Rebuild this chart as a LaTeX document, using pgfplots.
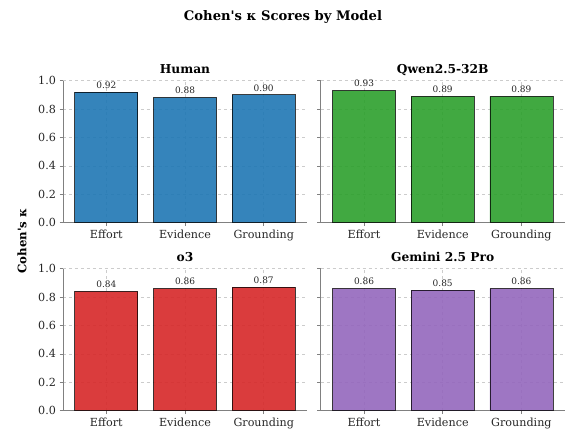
\documentclass[border=0pt]{standalone}
\usepackage{pgfplots}
\pgfplotsset{compat=1.18}
\usepackage{fontspec}
\setmainfont{DejaVu Serif}
\definecolor{cblue}{HTML}{1F77B4}
\definecolor{cgreen}{HTML}{2CA02C}
\definecolor{cred}{HTML}{D62728}
\definecolor{cpurple}{HTML}{9467BD}
\pgfplotsset{
  panel/.style={
    anchor=south west, scale only axis, width=244bp, height=142bp,
    xmin=-0.55, xmax=2.55, ymin=0, ymax=1,
    axis lines=left, axis line style={-, draw=gray, line width=0.9bp},
    xtick={0,1,2}, xticklabels={Effort,Evidence,Grounding},
    ytick={0,0.2,0.4,0.6,0.8,1.0},
    yticklabel style={/pgf/number format/.cd, fixed, precision=1, zerofill, assume math mode=true},
    tick label style={font=\fontsize{11.2}{13}\selectfont, text=black!85},
    tick style={gray, line width=0.8bp},
    major tick length=3.5bp, tick align=outside,
    grid=major, grid style={dashed, gray!40, line width=0.5bp},
    title style={font=\bfseries\fontsize{12.3}{14}\selectfont, text depth=0.25em, yshift=-5bp},
    ybar, bar width=0.8,
    nodes near coords={\pgfmathprintnumber[fixed,precision=2,zerofill,assume math mode=true]{\pgfplotspointmeta}},
    every node near coord/.append style={font=\fontsize{9}{10}\selectfont, text=black!85, text opacity=1},
  },
  barsty/.style={draw=black, draw opacity=0.75, line width=0.8bp, fill=#1, fill opacity=0.9},
}
\begin{document}
\begin{tikzpicture}[x=1bp,y=1bp]
\path[use as bounding box] (0,0) rectangle (566,431);
\node[font=\bfseries\fontsize{13.2}{16}\selectfont] at (283,414) {Cohen\textquotesingle s κ Scores by Model};
\node[font=\bfseries\fontsize{11.8}{14}\selectfont, rotate=90] at (22,190) {Cohen\textquotesingle s κ};

\begin{axis}[panel, at={(63bp,208.3bp)}, title={Human}]
\addplot[barsty=cblue] coordinates {(0,0.92) (1,0.88) (2,0.90)};
\end{axis}

\begin{axis}[panel, at={(320.7bp,208.3bp)}, title={Qwen2.5-32B}, yticklabels={}]
\addplot[barsty=cgreen] coordinates {(0,0.93) (1,0.89) (2,0.89)};
\end{axis}

\begin{axis}[panel, at={(63bp,20.3bp)}, title={o3}]
\addplot[barsty=cred] coordinates {(0,0.84) (1,0.86) (2,0.87)};
\end{axis}

\begin{axis}[panel, at={(320.7bp,20.3bp)}, title={Gemini 2.5 Pro}, yticklabels={}]
\addplot[barsty=cpurple] coordinates {(0,0.86) (1,0.85) (2,0.86)};
\end{axis}
\end{tikzpicture}
\end{document}
